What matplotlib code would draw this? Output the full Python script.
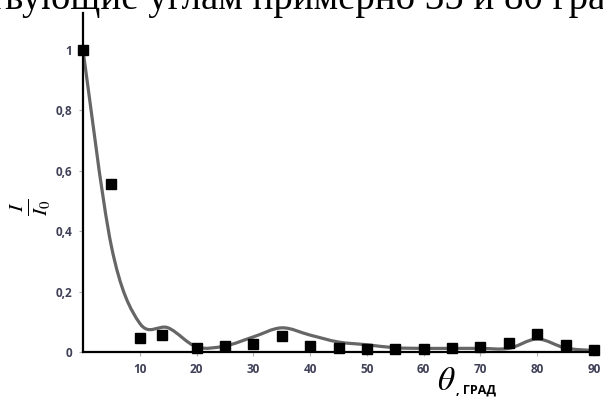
import matplotlib
matplotlib.use("Agg")
import matplotlib.pyplot as plt
from matplotlib.path import Path
from matplotlib.patches import PathPatch

# measured points (squares)
angles = [0, 5, 10, 14, 20, 25, 30, 35, 40, 45, 50, 55, 60, 65, 70, 75, 80, 85, 90]
intensity = [1.0, 0.555, 0.045, 0.055, 0.013, 0.02, 0.027, 0.053, 0.02, 0.012,
             0.01, 0.01, 0.01, 0.013, 0.016, 0.03, 0.058, 0.022, 0.005]

# calculated curve (smoothed line)
calc_angles = [0, 5, 10, 15, 20, 25, 30, 35, 40, 45, 50, 55, 60, 65, 70, 75, 80, 85, 90]
calc_values = [1.0, 0.35, 0.095, 0.08, 0.017, 0.02, 0.05, 0.08, 0.056, 0.033,
               0.024, 0.014, 0.012, 0.012, 0.012, 0.012, 0.043, 0.013, 0.005]

x_ticks = [10, 20, 30, 40, 50, 60, 70, 80, 90]
y_ticks = [0, 0.2, 0.4, 0.6, 0.8, 1.0]
y_labels = ["0", "0,2", "0,4", "0,6", "0,8", "1"]

W, H = 603, 403
fig = plt.figure(figsize=(W / 100, H / 100), dpi=100)
ax = fig.add_axes([83 / W, 1 - 352 / H, (594 - 83) / W, (352 - 13) / H])
ax.set_xlim(0, 90)
ax.set_ylim(0, 1.1225)

# smooth line like excel (catmull-rom bezier)
pts = list(zip(calc_angles, calc_values))
verts = [pts[0]]
codes = [Path.MOVETO]
for i in range(len(pts) - 1):
    p0 = pts[i - 1] if i > 0 else pts[i]
    p1 = pts[i]
    p2 = pts[i + 1]
    p3 = pts[i + 2] if i + 2 < len(pts) else pts[i + 1]
    c1 = (p1[0] + (p2[0] - p0[0]) / 6, p1[1] + (p2[1] - p0[1]) / 6)
    c2 = (p2[0] - (p3[0] - p1[0]) / 6, p2[1] - (p3[1] - p1[1]) / 6)
    verts += [c1, c2, p2]
    codes += [Path.CURVE4] * 3
ax.add_patch(PathPatch(Path(verts, codes), fill=False, edgecolor="#666666",
                       lw=2.3, zorder=2, clip_on=False))

ax.plot(angles, intensity, "s", color="black", ms=6.5, zorder=3, clip_on=False)

for s in ["top", "right"]:
    ax.spines[s].set_visible(False)
for s in ["left", "bottom"]:
    ax.spines[s].set_linewidth(1.6)
    ax.spines[s].set_color("black")

tick_font = dict(family="Open Sans", weight="bold", size=8.5)
ax.set_xticks(x_ticks)
ax.set_xticklabels([str(v) for v in x_ticks], fontdict=tick_font, color="#404058")
ax.set_yticks(y_ticks)
ax.set_yticklabels(y_labels, fontdict=tick_font, color="#404058")
ax.tick_params(axis="both", length=3, width=0.8, color="#b0b0b0", pad=5)

fig.text(30 / W, 1 - 207 / H, r"$\frac{I}{I_0}$", rotation=90, fontsize=22,
         ha="center", va="center", math_fontfamily="stix")
fig.text(446 / W, 1 - 381 / H, r"$\theta$", fontsize=24, ha="center", va="center",
         math_fontfamily="stix")
fig.text(456 / W, 1 - 394 / H, ", ГРАД", family="Open Sans", weight="bold",
         size=9, ha="left", va="baseline", color="black")

fig.text(-12 / W, 1 - 9 / H, "твующие углам примерно 35 и 80 град",
         family="Liberation Serif", size=28, ha="left", va="baseline")

fig.savefig("out.png", dpi=100)
